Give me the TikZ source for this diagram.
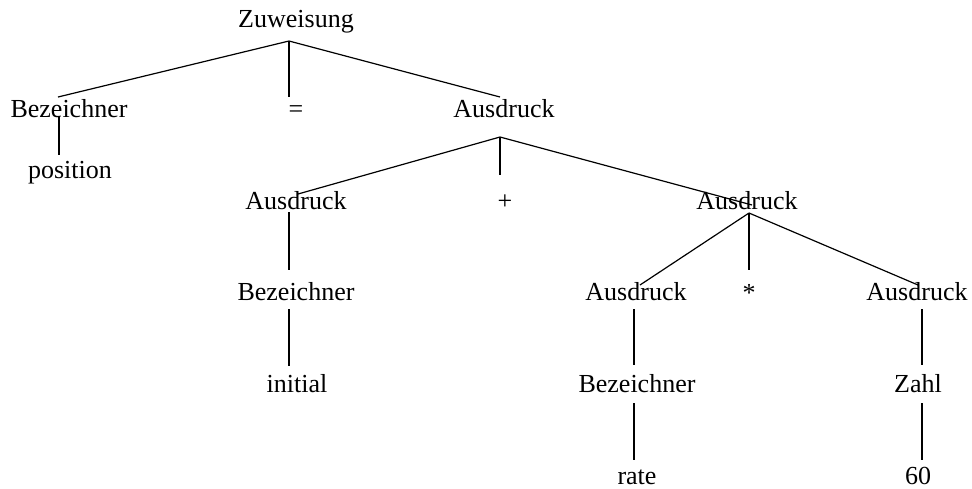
\documentclass[tikz,border=0pt]{standalone}
\usepackage{fontspec}
\setmainfont{Liberation Serif}
\begin{document}
\begin{tikzpicture}[x=1pt, y=-1pt,
  lab/.style={font=\fontsize{26}{30}\selectfont, inner sep=0pt, anchor=base},
  edge/.style={line width=1.2pt}]
\useasboundingbox (0,0) rectangle (972,488);

% labels of the parse tree (positions give the baseline)
\node[lab] (zuw)  at (296,27)  {Zuweisung};
\node[lab] (bez1) at (69,117)  {Bezeichner};
\node[lab] (eq)   at (296,117) {=};
\node[lab] (aus1) at (504,117) {Ausdruck};
\node[lab] (pos)  at (70,178)  {position};
\node[lab] (aus2) at (296,209) {Ausdruck};
\node[lab] (plus) at (505,209) {+};
\node[lab] (aus3) at (747,209) {Ausdruck};
\node[lab] (bez2) at (296,300) {Bezeichner};
\node[lab] (ini)  at (297,392) {initial};
\node[lab] (aus4) at (636,300) {Ausdruck};
\node[lab] (star) at (749,301) {*};
\node[lab] (aus5) at (917,300) {Ausdruck};
\node[lab] (bez3) at (637,392) {Bezeichner};
\node[lab] (zahl) at (918,392) {Zahl};
\node[lab] (rate) at (637,484) {rate};
\node[lab] (sixty) at (918,484) {60};

% attachment points of the branches
\coordinate (zuw-b)  at (289,41);
\coordinate (bez1-t) at (58,97);
\coordinate (bez1-b) at (59,116);
\coordinate (pos-t)  at (59,155);
\coordinate (eq-t)   at (289,97);
\coordinate (aus1-t) at (500,97);
\coordinate (aus1-b) at (500,137);
\coordinate (aus2-t) at (298,194);
\coordinate (aus2-b) at (289,212);
\coordinate (plus-t) at (500,175);
\coordinate (aus3-t) at (752,205);
\coordinate (aus3-b) at (749,213);
\coordinate (bez2-t) at (289,270);
\coordinate (bez2-b) at (289,309);
\coordinate (ini-t)  at (289,366);
\coordinate (aus4-t) at (640,285);
\coordinate (aus4-b) at (634,309);
\coordinate (star-t) at (749,270);
\coordinate (aus5-t) at (918,285);
\coordinate (aus5-b) at (922,309);
\coordinate (bez3-t) at (634,365);
\coordinate (bez3-b) at (634,403);
\coordinate (rate-t) at (634,460);
\coordinate (zahl-t) at (922,365);
\coordinate (zahl-b) at (922,403);
\coordinate (sixty-t) at (922,460);

% branches
\draw[edge] (zuw-b) -- (bez1-t);
\draw[edge] (zuw-b) -- (eq-t);
\draw[edge] (zuw-b) -- (aus1-t);
\draw[edge] (bez1-b) -- (pos-t);
\draw[edge] (aus1-b) -- (aus2-t);
\draw[edge] (aus1-b) -- (plus-t);
\draw[edge] (aus1-b) -- (aus3-t);
\draw[edge] (aus2-b) -- (bez2-t);
\draw[edge] (bez2-b) -- (ini-t);
\draw[edge] (aus3-b) -- (aus4-t);
\draw[edge] (aus3-b) -- (star-t);
\draw[edge] (aus3-b) -- (aus5-t);
\draw[edge] (aus4-b) -- (bez3-t);
\draw[edge] (bez3-b) -- (rate-t);
\draw[edge] (aus5-b) -- (zahl-t);
\draw[edge] (zahl-b) -- (sixty-t);
\end{tikzpicture}
\end{document}
